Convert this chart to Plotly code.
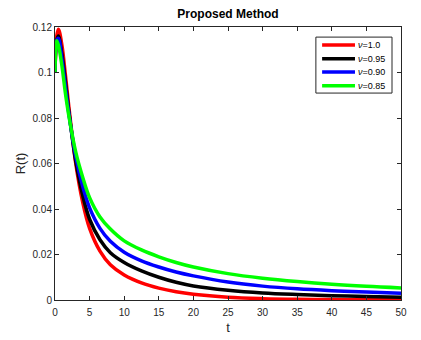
import plotly.graph_objects as go

t = [0, 0.25, 0.5, 1, 1.5, 2, 3, 4, 5, 6.5, 8, 10, 12.5, 15, 17.5, 20, 25, 30, 35, 40, 45, 50]

r_10 = [0.100, 0.116, 0.119, 0.112, 0.099, 0.085, 0.060, 0.043, 0.0315, 0.0215, 0.0155, 0.011,
        0.0075, 0.0052, 0.0036, 0.0025, 0.0012, 0.0006, 0.0003, 0.0002, 0.0001, 0.0001]
r_095 = [0.100, 0.114, 0.116, 0.108, 0.096, 0.083, 0.061, 0.046, 0.0355, 0.0265, 0.0208, 0.0165,
         0.0128, 0.010, 0.0078, 0.0062, 0.0043, 0.0031, 0.0024, 0.0019, 0.0015, 0.0012]
r_090 = [0.100, 0.114, 0.115, 0.106, 0.094, 0.082, 0.063, 0.050, 0.0405, 0.0315, 0.0258, 0.021,
         0.0172, 0.0145, 0.0123, 0.0106, 0.0079, 0.0061, 0.0049, 0.0041, 0.0035, 0.0030]
r_085 = [0.100, 0.114, 0.112, 0.103, 0.091, 0.081, 0.065, 0.054, 0.045, 0.0365, 0.0312, 0.026,
         0.0220, 0.0190, 0.0165, 0.0145, 0.0116, 0.0096, 0.0081, 0.0069, 0.0060, 0.0053]

names = ["<i>\u03bd</i>=1.0", "<i>\u03bd</i>=0.95", "<i>\u03bd</i>=0.90", "<i>\u03bd</i>=0.85"]
colors = ["#ff0000", "#000000", "#0000ff", "#00ff00"]

font = "Liberation Sans, Arial"
dark = "#262626"

fig = go.Figure()

for y, name, color in zip([r_10, r_095, r_090, r_085], names, colors):
    fig.add_trace(
        go.Scatter(
            x=t,
            y=y,
            name=name,
            mode="lines",
            showlegend=False,
            line=dict(color=color, width=3.5, shape="spline", smoothing=1.0)
        )
    )

# legend box drawn by hand (MATLAB-style compact legend)
fig.add_shape(type="rect", xref="paper", yref="paper",
              x0=0.754, x1=0.974, y0=0.758, y1=0.963,
              line=dict(color=dark, width=1), fillcolor="white", layer="above")
legend_y = [0.934, 0.884, 0.835, 0.785]
for ly, name, color in zip(legend_y, names, colors):
    fig.add_shape(type="line", xref="paper", yref="paper",
                  x0=0.772, x1=0.867, y0=ly, y1=ly,
                  line=dict(color=color, width=3.5), layer="above")
    fig.add_annotation(x=0.871, y=ly, xref="paper", yref="paper",
                       text=name, showarrow=False, xanchor="left", yanchor="middle",
                       font=dict(family=font, size=9, color="#000000"))

axis_style = dict(
    showgrid=False,
    zeroline=False,
    showline=True,
    linecolor=dark,
    linewidth=1,
    mirror="ticks",
    ticks="inside",
    ticklen=4,
    tickcolor=dark,
    automargin=False,
    tickfont=dict(family=font, size=10, color=dark),
)

fig.update_layout(
    width=413,
    height=332,
    margin=dict(l=47, r=20, t=19, b=40),
    paper_bgcolor="white",
    plot_bgcolor="white",
    showlegend=False,
    title=dict(
        text="<b>Proposed Method</b>",
        x=(228 - 8) / 413,
        xanchor="center",
        y=1 - (14 - 8) / 332,
        yanchor="middle",
        font=dict(family=font, size=12, color="#000000"),
    ),
    xaxis=dict(
        axis_style,
        range=[0, 50],
        dtick=5,
        tick0=0,
        ticklabelstandoff=3,
        title=dict(text="t", font=dict(family=font, size=13, color=dark), standoff=5),
    ),
    yaxis=dict(
        axis_style,
        range=[0, 0.12],
        dtick=0.02,
        tick0=0,
        title=dict(text="R(t)", font=dict(family=font, size=13, color=dark), standoff=3),
    ),
)

fig.write_html("out.html")
